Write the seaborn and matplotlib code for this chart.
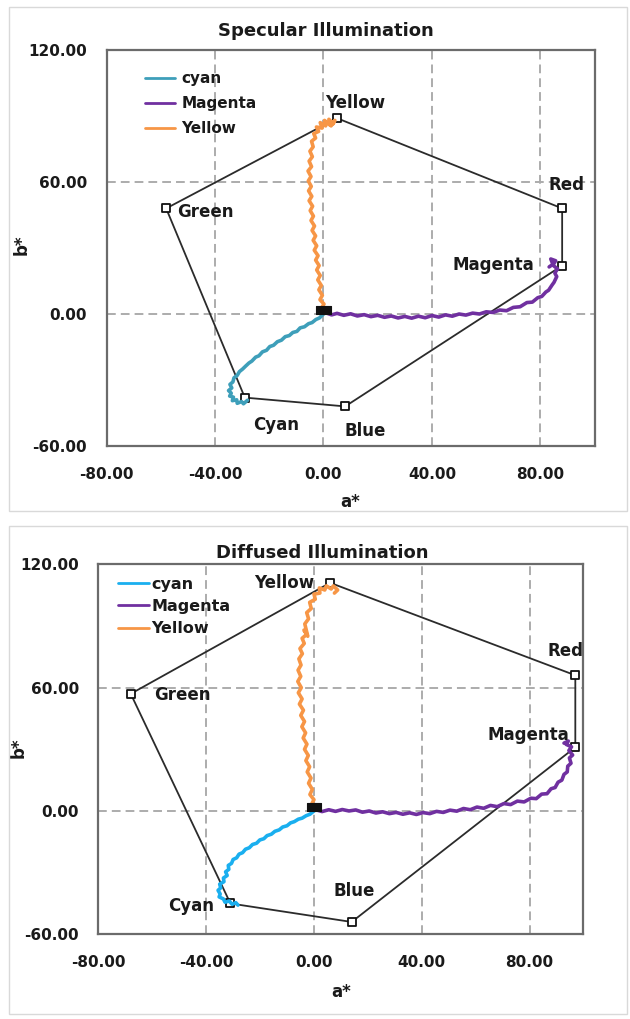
import numpy as np
import pandas as pd
import seaborn as sns
import matplotlib
matplotlib.use("Agg")
import matplotlib.pyplot as plt
from matplotlib.patches import Rectangle

# ---------------- data ----------------
vertex_names = ["Yellow", "Red", "Magenta", "Blue", "Cyan", "Green"]
spec_vertex_a = [5, 88, 88, 8, -29, -58]
spec_vertex_b = [89, 48, 22, -42, -38, 48]
diff_vertex_a = [6, 97, 97, 14, -31, -68]
diff_vertex_b = [111, 66, 31, -54, -45, 57]

ink_names = ["cyan", "Magenta", "Yellow"]

spec_cyan = [(0, 0), (-1.5, -1.8), (-2.8, -2.5), (-4.2, -3.9), (-5.5, -4.4), (-7.0, -5.8),
             (-8.6, -6.3), (-9.8, -7.9), (-11.3, -8.4), (-12.6, -9.8), (-14.1, -10.3),
             (-15.5, -11.9), (-17.0, -12.6), (-18.4, -14.2), (-19.8, -14.8), (-21.0, -16.5),
             (-22.5, -17.2), (-23.8, -19.0), (-25.0, -19.6), (-26.4, -21.4), (-27.5, -22.3),
             (-28.8, -23.8), (-29.8, -25.0), (-31.0, -26.2), (-31.8, -27.9), (-33.0, -29.0),
             (-33.4, -30.9), (-34.5, -32.0), (-33.8, -33.6), (-35.0, -34.8), (-34.0, -36.0),
             (-34.6, -37.3), (-33.2, -37.8), (-33.6, -39.4), (-32.0, -39.0), (-31.8, -40.6),
             (-30.2, -39.8), (-29.5, -40.8), (-28.0, -39.2)]
spec_magenta = [(1.0, 0.5), (3.0, -0.4), (5.0, 0.3), (7.5, -0.6), (10.0, 0.1), (12.5, -0.9),
                (15.0, -0.3), (17.5, -1.2), (20.0, -0.6), (22.5, -1.5), (25.0, -0.9),
                (27.5, -1.8), (30.0, -1.1), (32.5, -1.9), (35.0, -1.0), (37.5, -1.7),
                (40.0, -0.7), (42.5, -1.4), (45.0, -0.4), (47.5, -1.0), (50.0, 0.0),
                (52.5, -0.5), (55.0, 0.4), (57.5, 0.0), (60.0, 1.0), (62.5, 0.7), (65.0, 1.8),
                (67.5, 1.5), (70.0, 3.0), (72.5, 3.3), (75.0, 5.2), (77.0, 5.4), (79.0, 7.4),
                (80.5, 8.0), (82.0, 10.0), (83.0, 10.8), (84.3, 13.2), (85.0, 14.4),
                (86.0, 17.0), (85.3, 18.6), (86.3, 20.5), (84.6, 22.2), (85.6, 24.2),
                (83.8, 25.0), (84.6, 22.6), (83.2, 21.4)]
spec_yellow = [(0.0, 0.5), (-0.9, 2.5), (0.2, 4.5), (-1.3, 6.5), (-0.4, 8.5), (-1.7, 11),
               (-0.8, 13), (-2.1, 15.5), (-1.2, 17.5), (-2.5, 20), (-1.6, 22), (-2.9, 24.5),
               (-2.0, 26.5), (-3.4, 29), (-2.5, 31), (-3.8, 33.5), (-2.9, 35.5), (-4.2, 38),
               (-3.3, 40), (-4.6, 42.5), (-3.7, 44.5), (-4.9, 47), (-4.0, 49), (-5.3, 51.5),
               (-4.3, 53.5), (-5.5, 56), (-4.5, 58), (-5.6, 60.5), (-4.6, 62.5), (-5.7, 65),
               (-4.4, 67), (-5.3, 69.5), (-4.1, 71.5), (-5.0, 74), (-3.8, 76), (-4.4, 78.5),
               (-2.9, 80), (-3.6, 82), (-1.8, 83), (-2.6, 85), (-0.5, 84.5), (-1.2, 87),
               (0.8, 85.5), (0.4, 88), (2.2, 86), (2.0, 88.5), (3.6, 86.5), (4.2, 88),
               (2.8, 85.5)]

diff_cyan = [(0, 0), (-1.5, -1.6), (-2.9, -2.3), (-4.4, -3.5), (-5.8, -4.0), (-7.3, -5.2),
             (-8.7, -5.8), (-10.0, -7.2), (-11.6, -7.8), (-12.9, -9.2), (-14.5, -9.9),
             (-15.8, -11.3), (-17.4, -12.0), (-18.6, -13.5), (-20.1, -14.1), (-21.3, -15.7),
             (-22.8, -16.3), (-24.0, -17.9), (-25.4, -18.6), (-26.5, -20.3), (-27.8, -21.0),
             (-28.7, -22.8), (-30.0, -23.6), (-30.6, -25.5), (-31.8, -26.5), (-31.6, -28.4),
             (-32.8, -29.6), (-32.2, -31.4), (-33.6, -32.6), (-33.4, -34.4), (-35.0, -35.6),
             (-34.6, -37.4), (-35.6, -38.6), (-34.8, -40.4), (-35.2, -41.8), (-33.6, -42.8),
             (-33.0, -44.4), (-31.4, -43.8), (-30.4, -45.4), (-29.0, -44.6), (-28.2, -45.8)]
diff_magenta = [(1.0, 0.5), (3.0, -0.3), (5.5, 0.6), (8.0, -0.2), (10.5, 0.7), (13.0, 0.0),
                (15.5, 0.5), (18.0, -0.6), (20.5, 0.0), (23.0, -1.0), (25.5, -0.4),
                (28.0, -1.3), (30.5, -0.7), (33.0, -1.6), (35.5, -0.9), (38.0, -1.7),
                (40.5, -0.8), (43.0, -1.3), (45.5, -0.2), (48.0, -0.7), (50.5, 0.4),
                (53.0, -0.1), (55.5, 1.2), (58.0, 0.6), (60.5, 1.9), (63.0, 1.3), (65.5, 2.7),
                (68.0, 2.1), (70.5, 3.6), (73.0, 3.1), (75.5, 4.8), (78.0, 4.4), (80.5, 6.2),
                (82.5, 6.0), (84.5, 8.2), (86.5, 8.4), (88.0, 10.8), (89.5, 11.4),
                (90.6, 14.0), (92.0, 15.0), (92.8, 17.8), (94.0, 19.0), (94.2, 21.8),
                (95.4, 23.2), (94.8, 25.8), (96.0, 27.2), (94.6, 29.4), (95.6, 31.2),
                (93.6, 32.4), (94.4, 34.0), (92.8, 33.0)]
diff_yellow = [(-0.3, 0.5), (-1.0, 3), (0.0, 5.5), (-1.5, 8), (-0.6, 10.5), (-2.0, 13.5),
               (-1.1, 16), (-2.5, 19), (-1.6, 21.5), (-3.0, 24.5), (-2.1, 27), (-3.5, 30),
               (-2.6, 32.5), (-4.0, 35.5), (-3.1, 38), (-4.5, 41), (-3.5, 43.5), (-4.9, 46.5),
               (-3.9, 49), (-5.4, 52), (-4.4, 54.5), (-5.8, 57.5), (-4.7, 60), (-6.0, 63),
               (-4.9, 65.5), (-5.9, 68.5), (-4.8, 71), (-5.6, 74), (-4.3, 76.5), (-5.2, 79),
               (-3.6, 81.5), (-4.4, 84), (-2.6, 86), (-3.7, 88), (-2.3, 85), (-3.4, 91),
               (-2.0, 93.5), (-2.7, 96.5), (-1.0, 98.5), (-1.6, 101.5), (0.5, 103),
               (0.0, 105.5), (2.2, 106), (2.0, 108.5), (4.0, 107.5), (4.6, 109.5),
               (6.4, 108), (7.2, 109.5), (8.8, 107.5), (7.6, 106)]

# unprinted paper start points near the origin
spec_origin_a = [-1.2, 1.2]
spec_origin_b = [1.6, 1.8]
diff_origin_a = [-1.2, 1.2]
diff_origin_b = [1.8, 2.0]

x_ticks = [-80, -40, 0, 40, 80]
y_ticks = [-60, 0, 60, 120]

# ---------------- styling ----------------
sns.set_theme(style="white")
plt.rcParams["font.family"] = ["DejaVu Sans"]
plt.rcParams["font.weight"] = "bold"
TXT = "#1a1a1a"

fig = plt.figure(figsize=(6.30, 10.19), dpi=100)
W, H = 630, 1019


def px_box(l, t, r, b):
    return [l / W, 1 - b / H, (r - l) / W, (b - t) / H]


# panel frames
for (l, t, r, b) in [(9, 7, 627, 511), (9, 526, 627, 1014)]:
    fig.add_artist(Rectangle((l / W, 1 - b / H), (r - l) / W, (b - t) / H,
                             transform=fig.transFigure, fill=False,
                             ec="#D9D9D9", lw=1.0))

panels = [
    dict(box=px_box(106.5, 50, 594.7, 446), title="Specular Illumination",
         title_xy=(325.5, 31), va=spec_vertex_a, vb=spec_vertex_b,
         traces=[spec_cyan, spec_magenta, spec_yellow],
         colors=["#3E9FBA", "#7030A0", "#F79646"],
         oa=spec_origin_a, ob=spec_origin_b,
         label_off={"Yellow": (-8.8, 11.1, "left"), "Red": (-9.9, 17.1, "left"),
                    "Magenta": (-20.1, 0.7, "right"), "Blue": (-0.3, -17.4, "left"),
                    "Cyan": (6.0, -19.4, "left"), "Green": (7.8, -2.6, "left")},
         leg=dict(anchor=(0.078, 0.947), fs=11, spacing=0.65, hlen=2.0, pad=0.4),
         xlab_y=-0.1405, ylab_x=-0.173, ylab_y=0.508),
    dict(box=px_box(98.4, 564.3, 583.4, 934.3), title="Diffused Illumination",
         title_xy=(322, 553), va=diff_vertex_a, vb=diff_vertex_b,
         traces=[diff_cyan, diff_magenta, diff_yellow],
         colors=["#1AAFEF", "#7030A0", "#F79646"],
         oa=diff_origin_a, ob=diff_origin_b,
         label_off={"Yellow": (-11.7, 0.0, "right"), "Red": (-20.0, 17.8, "left"),
                    "Magenta": (-4.7, 9.0, "right"), "Blue": (-13.4, 22.6, "left"),
                    "Cyan": (-11.8, -2.0, "right"), "Green": (17.0, -0.6, "left")},
         leg=dict(anchor=(0.041, 0.966), fs=11.5, spacing=0.45, hlen=1.9, pad=0.15),
         xlab_y=-0.155, ylab_x=-0.164, ylab_y=0.503),
]

for p in panels:
    ax = fig.add_axes(p["box"])

    # gamut outline (closed polygon)
    poly = pd.DataFrame({"a": p["va"] + p["va"][:1], "b": p["vb"] + p["vb"][:1]})
    sns.lineplot(data=poly, x="a", y="b", sort=False, estimator=None,
                 color="#2b2b2b", lw=1.3, ax=ax, legend=False, zorder=2)

    # ink traces
    frames = []
    for name, pts in zip(ink_names, p["traces"]):
        d = pd.DataFrame(pts, columns=["a", "b"])
        d["ink"] = name
        frames.append(d)
    tr = pd.concat(frames, ignore_index=True)
    sns.lineplot(data=tr, x="a", y="b", hue="ink", hue_order=ink_names,
                 palette=dict(zip(ink_names, p["colors"])), sort=False,
                 estimator=None, lw=2.6, ax=ax, zorder=4)

    # gamut vertices
    vd = pd.DataFrame({"a": p["va"], "b": p["vb"]})
    sns.scatterplot(data=vd, x="a", y="b", marker="s", s=36, facecolor="white",
                    edgecolor="#111111", linewidth=1.3, ax=ax, legend=False, zorder=3)

    # paper points
    od = pd.DataFrame({"a": p["oa"], "b": p["ob"]})
    sns.scatterplot(data=od, x="a", y="b", marker="s", s=40, color="#111111",
                    edgecolor="#111111", linewidth=0.8, ax=ax, legend=False, zorder=5)

    # vertex labels
    for name, a, b in zip(vertex_names, p["va"], p["vb"]):
        dx, dy, ha = p["label_off"][name]
        ax.annotate(name, (a, b), xytext=(dx, dy), textcoords="offset points",
                    ha=ha, va="center", fontsize=12, fontweight="bold",
                    color=TXT, annotation_clip=False, zorder=6)

    ax.set_xlim(-80, 100)
    ax.set_ylim(-60, 120)
    ax.set_xticks(x_ticks)
    ax.set_yticks(y_ticks)
    ax.set_xticklabels([f"{v:.2f}" for v in x_ticks])
    ax.set_yticklabels([f"{v:.2f}" for v in y_ticks])
    ax.tick_params(axis="both", which="major", direction="out", length=6,
                   width=1.2, color="#7f7f7f", labelsize=11, labelcolor=TXT)
    ax.tick_params(axis="x", pad=9)
    ax.tick_params(axis="y", pad=8)
    for lab in ax.get_xticklabels() + ax.get_yticklabels():
        lab.set_fontweight("bold")

    ax.grid(True, which="major", color="#ACACAC", lw=1.4, ls=(0, (4.5, 2.6)))
    ax.set_axisbelow(True)
    for s in ax.spines.values():
        s.set_visible(True)
        s.set_color("#6b6b6b")
        s.set_linewidth(1.6)

    ax.set_xlabel("a*", fontsize=12, fontweight="bold", color=TXT)
    ax.set_ylabel("b*", fontsize=12, fontweight="bold", color=TXT)
    ax.xaxis.set_label_coords(0.5, p["xlab_y"])
    ax.yaxis.set_label_coords(p["ylab_x"], p["ylab_y"])
    ax.xaxis.label.set_verticalalignment("center")
    ax.yaxis.label.set_verticalalignment("center")

    handles, labels = ax.get_legend_handles_labels()
    lg = p["leg"]
    leg = ax.legend(handles, labels, loc="upper left", bbox_to_anchor=lg["anchor"],
                    frameon=False, borderpad=0, borderaxespad=0,
                    handlelength=lg["hlen"], handletextpad=lg["pad"],
                    labelspacing=lg["spacing"],
                    prop={"size": lg["fs"], "weight": "bold"})
    for t in leg.get_texts():
        t.set_color(TXT)
    for h in leg.get_lines():
        h.set_linewidth(2.0)

    tx, ty = p["title_xy"]
    fig.text(tx / W, 1 - ty / H, p["title"], ha="center", va="center",
             fontsize=13, fontweight="bold", color=TXT)

fig.savefig("out.png", dpi=100)
